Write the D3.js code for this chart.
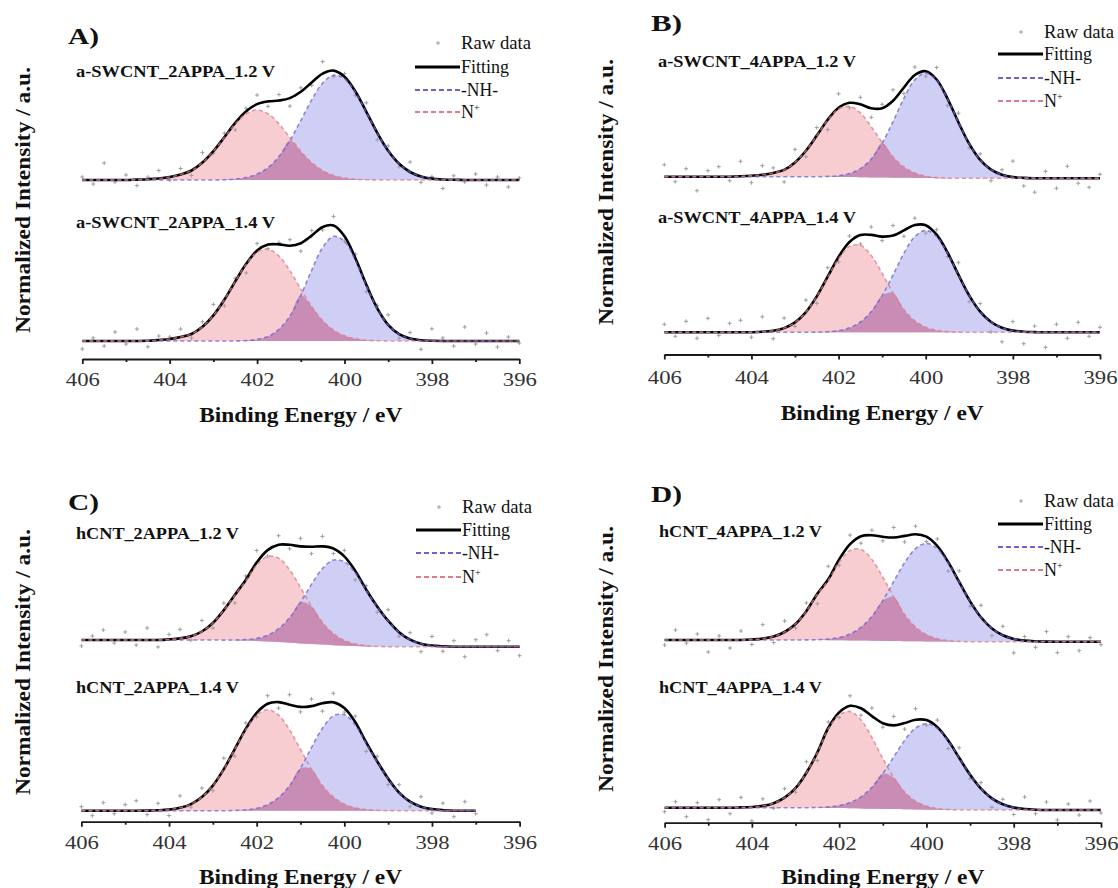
<!DOCTYPE html>
<html><head><meta charset="utf-8">
<script src="https://cdn.jsdelivr.net/npm/d3@7"></script>
<style>body{margin:0;background:#fff}svg{display:block}</style>
</head><body>
<svg id="c" width="1118" height="888"></svg>
<script>
// ---------------- DATA ----------------
const energies = [406,405.75,405.5,405.25,405,404.75,404.5,404.25,404,403.75,403.5,403.25,403,402.75,402.5,402.25,402,401.75,401.5,401.25,401,400.75,400.5,400.25,400,399.75,399.5,399.25,399,398.75,398.5,398.25,398,397.75,397.5,397.25,397,396.75,396.5,396.25,396];
const xTicks = [406,404,402,400,398,396];
const xMinorTicks = [405,403,401,399,397];
const panelLetters = ["A)","B)","C)","D)"];
const sampleLabels = [
  ["a-SWCNT_2APPA_1.2 V","a-SWCNT_2APPA_1.4 V"],
  ["a-SWCNT_4APPA_1.2 V","a-SWCNT_4APPA_1.4 V"],
  ["hCNT_2APPA_1.2 V","hCNT_2APPA_1.4 V"],
  ["hCNT_4APPA_1.2 V","hCNT_4APPA_1.4 V"]
];
const legendLabels = ["Raw data","Fitting","-NH-","N+"];
const xTitle = "Binding Energy / eV";
const yTitle = "Normalized Intensity / a.u.";
// vertical stacking offsets (a.u.) [upper, lower] per panel
const stackOffsets = [[179,18],[176.2,22.2],[175,11],[181,12.7]];

// -NH- component
const nhA1 = [0,0,0,0,0,0,0,0,0,0,0,0,0,0.3,1,2.5,5.9,12.4,23.4,39.4,59.4,80.2,96.9,104.8,101.3,87.7,67.9,47.1,29.2,16.2,8,3.6,1.4,0.5,0.2,0,0,0,0,0,0];
const nhA2 = [0,0,0,0,0,0,0,0,0,0,0,0,0,0,0.1,0.4,1.6,4.6,11.7,25,45.7,70.9,93.5,104.7,99.6,80.6,55.5,32.4,16.2,6.8,2.4,0.7,0.2,0,0,0,0,0,0,0,0];
const nhB1 = [0,0,0,0,0,0,0,0,0,0,0,0,0,0,0.1,0.4,1.2,3.5,8.6,18.4,34.4,56.1,79.5,98,105,98,79.5,56.1,34.4,18.4,8.6,3.5,1.2,0.4,0.1,0,0,0,0,0,0];
const nhB2 = [0,0,0,0,0,0,0,0,0,0,0,0,0,0,0.2,0.6,1.7,4.5,10.3,20.7,36.7,57.4,79.1,95.7,102,95.7,79.1,57.4,36.7,20.7,10.3,4.5,1.7,0.6,0.2,0,0,0,0,0,0];
const nhC1 = [0,0,0,0,0,0,0,0,0,0,0,0,0,0,0.3,1,2.6,6.3,13.4,25,41.1,59.6,75.9,85.1,84,73,55.9,40,26,14.5,7,3,1.2,0.4,0,0,0,0,0,0,0];
const nhC2 = [0,0,0,0,0,0,0,0,0,0,0,0,0,0,0.3,0.9,2.4,6,13.1,25.1,42.5,63.1,82.4,94.8,96,85.6,67.2,49,32,18,9,4,1.6,0.5,0,0,0,null,null,null,null];
const nhD1 = [0,0,0,0,0,0,0,0,0,0,0,0,0,0.1,0.4,1.1,2.8,6.4,13.2,24.4,40.3,59.5,78.5,92.7,98,92.7,78.5,59.5,40.3,24.4,13.2,6.4,2.8,1.1,0.4,0.1,0,0,0,0,0];
const nhD2 = [0,0,0,0,0,0,0,0,0,0,0,0,0,0,0.3,1,2.5,5.7,11.6,21.4,35.3,52.2,68.9,81.4,86,81.4,68.9,52.2,35.3,21.4,11.6,5.7,2.5,1,0.3,0,0,0,0,0,0];

// N+ component
const npA1 = [0,0,0,0,0,0.4,0.8,1.5,3,5.5,9.5,17.4,28.8,42.5,56.1,66.2,70,66.2,56.1,42.5,28.8,17.4,9.5,4.6,2,0.8,0.3,0.1,0,0,0,0,0,0,0,0,0,0,0,0,0];
const npA2 = [0,0,0,0,0,0,0.2,1,2,4,7,14.2,25.6,41.2,59.5,76.8,88.8,91.8,84.9,70.3,52.1,34.5,20.5,10.9,5.2,2.2,0.8,0.3,0,0,0,0,0,0,0,0,0,0,0,0,0];
const npB1 = [0,0,0,0,0,0,0,0.4,1,2,3.8,6.8,14.3,26,41.1,56.7,67.9,70.8,64.3,50.7,34.8,20.8,10.8,4.9,1.9,0.7,0.2,0,0,0,0,0,0,0,0,0,0,0,0,0,0];
const npB2 = [0,0,0,0,0,0,0,0,0.1,0.5,1.6,4.2,9.9,20.2,35.7,55,73.7,85.8,87,76.7,59,39.3,22.9,11.5,5.1,1.9,0.7,0.2,0,0,0,0,0,0,0,0,0,0,0,0,0];
const npC1 = [0,0,0,0,0,0,0,0,0.6,1.6,3.8,8.5,17,30,45,59.6,75.9,85.1,84,73,55.9,37.7,22.3,11.6,5.3,2.2,0.8,0.2,0,0,0,0,0,0,0,0,0,0,0,0,0];
const npC2 = [0,0,0,0,0,0,0.1,0.4,1.1,2.9,6.6,13.6,25.1,41.5,61.3,80.9,95.5,101,95.5,80.9,61.3,41.5,25.1,13.6,6.6,2.9,1.1,0.4,0.1,0,0,0,0,0,0,0,0,null,null,null,null];
const npD1 = [0,0,0,0,0,0,0,0,0.5,1.4,3.5,8,16,29,46,59.8,78.1,89.9,91.1,81.1,63.8,44,26.8,14.4,6.8,2.8,1,0.3,0,0,0,0,0,0,0,0,0,0,0,0,0];
const npD2 = [0,0,0,0,0,0,0,0.3,0.7,1.8,4.5,10,19.5,35,55,78.9,93.1,96.7,88.5,71.2,50.4,31.5,17.3,8.4,3.6,1.3,0.4,0,0,0,0,0,0,0,0,0,0,0,0,0,0];

// Shirley-type background rise (a.u.) above the stacking offset
const bgB1 = [1.6,1.6,1.6,1.6,1.6,1.6,1.6,1.6,1.6,1.6,1.6,1.6,1.6,1.6,1.5,1.5,1.4,1.2,1.1,0.9,0.8,0.6,0.5,0.4,0.2,0.1,0,0,0,0,0,0,0,0,0,0,0,0,0,0,0];
const bgC1 = [6.7,6.7,6.7,6.7,6.7,6.7,6.7,6.7,6.7,6.7,6.7,6.7,6.7,6.6,6.4,6.1,5.7,5.2,4.6,3.9,3.3,2.7,2.1,1.5,1,0.6,0.3,0.1,0,0,0,0,0,0,0,0,0,0,0,0,0];
const bgD1 = [1.7,1.7,1.7,1.7,1.7,1.7,1.7,1.7,1.7,1.7,1.7,1.7,1.7,1.7,1.6,1.5,1.4,1.3,1.2,1,0.8,0.7,0.5,0.4,0.3,0.2,0.1,0,0,0,0,0,0,0,0,0,0,0,0,0,0];
const bgD2 = [2.3,2.3,2.3,2.3,2.3,2.3,2.3,2.3,2.3,2.3,2.3,2.3,2.3,2.3,2.2,2.1,2,1.8,1.6,1.3,1.1,0.9,0.7,0.5,0.3,0.2,0.1,0,0,0,0,0,0,0,0,0,0,0,0,0,0];

// raw data residuals (raw - fit), a.u.
const residA1 = [3,-4,17,-2,5,-6,2,8,-3,6,-5,10,-2,4,-7,3,9,-5,6,-8,4,-3,12,-6,3,-4,9,-7,5,-3,10,-6,2,-9,4,-2,6,-5,3,-7,2];
const residA2 = [-8,3,-5,9,-3,12,-6,4,2,8,-4,5,11,-6,3,-9,7,-4,2,6,-8,5,-3,9,-5,4,-7,3,10,-4,6,-9,12,3,-5,14,-3,8,-6,4,-2];
const residB1 = [12,-5,8,-14,6,10,-4,15,-7,9,5,-12,13,-6,8,-10,14,-5,7,-9,4,11,-6,8,-5,12,-7,9,-4,6,-11,5,16,-8,-14,7,-10,12,-5,-9,4];
const residB2 = [8,-4,11,-6,14,-3,9,12,-5,15,-8,10,-4,12,-7,9,-5,6,-9,8,-4,10,-6,7,-8,5,-4,12,-6,8,-10,-14,9,-12,6,-15,8,-6,10,-4,5];
const residC1 = [-6,4,10,-3,8,-5,12,-7,5,9,-4,11,-5,7,-8,4,12,-6,9,-4,8,-7,10,-5,6,-9,4,-6,11,-4,7,-8,9,-5,6,-10,7,12,-4,6,-9];
const residC2 = [4,-5,8,-3,6,10,-4,7,-6,12,-3,9,-5,11,-7,6,-4,8,-6,10,-5,7,-8,9,-4,6,-9,5,-6,8,-5,10,-4,7,-6,9,-3,null,null,null,null];
const residD1 = [-5,10,-3,6,-12,4,-8,9,-5,14,-6,11,-4,8,-10,13,-6,9,-7,5,-4,10,-6,8,-5,7,-9,11,-5,12,-7,9,-14,4,-6,10,-11,5,-9,4,-3];
const residD2 = [-4,6,-9,5,-12,8,-6,10,-14,7,-5,9,-4,11,-8,6,-5,10,-7,8,-4,9,-6,11,-5,7,-8,10,-4,6,-9,5,-7,12,-4,8,-10,6,-5,9,-3];

const spectra = [
  {panel:0, row:0, nh:nhA1, np:npA1, bg:null, resid:residA1},
  {panel:0, row:1, nh:nhA2, np:npA2, bg:null, resid:residA2},
  {panel:1, row:0, nh:nhB1, np:npB1, bg:bgB1, resid:residB1},
  {panel:1, row:1, nh:nhB2, np:npB2, bg:null, resid:residB2},
  {panel:2, row:0, nh:nhC1, np:npC1, bg:bgC1, resid:residC1},
  {panel:2, row:1, nh:nhC2, np:npC2, bg:null, resid:residC2},
  {panel:3, row:0, nh:nhD1, np:npD1, bg:bgD1, resid:residD1},
  {panel:3, row:1, nh:nhD2, np:npD2, bg:bgD2, resid:residD2}
];

// ---------------- LAYOUT ----------------
const layout = [
  {x0:82.3, x1:519.3, axisY:359,   letter:[68,44],  labelX:76,  labelY:[77,228],  labelW:[199,199], legendX:461,  legendY:[43,67,90,112],   yLab:[30,200],  titleY:422, tickY:386},
  {x0:664.3,x1:1100,  axisY:354.5, letter:[651,31], labelX:658, labelY:[67,223],  labelW:[198,198], legendX:1044, legendY:[32,54,78,101],   yLab:[613,192], titleY:420, tickY:384},
  {x0:81.4, x1:519.6, axisY:821.7, letter:[68,510], labelX:76,  labelY:[539,693], labelW:[163,163], legendX:462,  legendY:[507,530,553,577],yLab:[30,662],  titleY:884, tickY:849},
  {x0:664.6,x1:1101,  axisY:822.7, letter:[651,502],labelX:659, labelY:[537,693], labelW:[163,163], legendX:1044, legendY:[501,524,547,570],yLab:[613,659], titleY:884, tickY:850}
];
const serif = "'Liberation Serif','Times New Roman','DejaVu Serif',serif";
const col = {redFill:"#f7cdd1", blueFill:"#cfcff5", overlap:"#c98db5", nh:"#6c63d4", np:"#dc7c8a", raw:"#9e9e9e"};

const svg = d3.select("#c");

function addText(g, x, y, str, o) {
  const t = g.append("text").attr("x", x).attr("y", y).text(str)
    .attr("font-family", serif).attr("font-size", o.size)
    .attr("font-weight", o.bold ? "bold" : "normal")
    .attr("fill", o.fill || "#111").attr("text-anchor", o.anchor || "start");
  if (o.len) t.attr("textLength", o.len).attr("lengthAdjust", "spacingAndGlyphs");
  if (o.transform) t.attr("transform", o.transform);
  return t;
}

const scales = layout.map(L => ({
  x: d3.scaleLinear().domain([406, 396]).range([L.x0, L.x1]),
  y: d3.scaleLinear().domain([0, 330]).range([L.axisY, L.axisY - 330])
}));

// spectra
spectra.forEach(s => {
  const L = layout[s.panel], {x, y} = scales[s.panel];
  const off = stackOffsets[s.panel][s.row];
  const pts = energies.map((e, i) => ({e, nh: s.nh[i], np: s.np[i], bg: off + (s.bg ? s.bg[i] : 0), r: s.resid[i]}))
    .filter(d => d.nh !== null);
  pts.forEach(d => { d.fit = d.bg + d.nh + d.np; d.raw = d.fit + d.r; });
  const g = svg.append("g");
  const curve = d3.curveCatmullRom;
  const area = f => d3.area().x(d => x(d.e)).y0(d => y(d.bg)).y1(d => y(d.bg + f(d))).curve(curve);
  g.append("path").attr("d", area(d => d.np)(pts)).attr("fill", col.redFill);
  g.append("path").attr("d", area(d => d.nh)(pts)).attr("fill", col.blueFill);
  g.append("path").attr("d", area(d => Math.min(d.nh, d.np))(pts)).attr("fill", col.overlap);
  g.selectAll(".raw").data(pts).enter().append("path")
    .attr("transform", d => `translate(${x(d.e)},${y(d.raw)})`)
    .attr("d", "M-2,0H2M0,-2V2").attr("stroke", col.raw).attr("stroke-width", 1);
  const line = f => d3.line().x(d => x(d.e)).y(d => y(f(d))).curve(curve);
  g.append("path").attr("d", line(d => d.fit)(pts)).attr("fill", "none").attr("stroke", "#000").attr("stroke-width", 2.6);
  g.append("path").attr("d", line(d => d.bg + d.nh)(pts)).attr("fill", "none").attr("stroke", col.nh)
    .attr("stroke-width", 1.6).attr("stroke-dasharray", "4,3").attr("stroke-opacity", 0.75);
  g.append("path").attr("d", line(d => d.bg + d.np)(pts)).attr("fill", "none").attr("stroke", col.np)
    .attr("stroke-width", 1.6).attr("stroke-dasharray", "4,3").attr("stroke-opacity", 0.75);
});

// axes, labels, legends
layout.forEach((L, p) => {
  const {x} = scales[p];
  const g = svg.append("g");
  const ax = g.append("g").attr("transform", `translate(0,${L.axisY})`)
    .call(d3.axisBottom(x).tickValues(xTicks).tickSize(5).tickSizeOuter(0).tickFormat(d3.format("d")));
  ax.selectAll("path,line").attr("stroke", "#1a1a1a").attr("stroke-width", 1.8);
  ax.selectAll("text").attr("y", L.tickY - L.axisY).attr("dy", 0)
    .attr("font-family", serif).attr("font-size", 19).attr("fill", "#333")
    .attr("textLength", 34).attr("lengthAdjust", "spacingAndGlyphs");
  const axm = g.append("g").attr("transform", `translate(0,${L.axisY})`)
    .call(d3.axisBottom(x).tickValues(xMinorTicks).tickSize(3).tickFormat(() => ""));
  axm.select(".domain").remove();
  axm.selectAll("line").attr("stroke", "#1a1a1a").attr("stroke-width", 1.8);

  addText(g, (L.x0 + L.x1) / 2, L.titleY, xTitle, {size: 20, bold: true, anchor: "middle", len: 203});
  addText(g, 0, 0, yTitle, {size: 21, bold: true, anchor: "middle", len: 266,
    transform: `translate(${L.yLab[0]},${L.yLab[1]}) rotate(-90)`});
  addText(g, L.letter[0], L.letter[1], panelLetters[p], {size: 23, bold: true, len: 31});
  sampleLabels[p].forEach((lab, r) => addText(g, L.labelX, L.labelY[r], lab, {size: 16, bold: true, len: L.labelW[r]}));

  // legend
  const lx = L.legendX, ly = L.legendY;
  g.append("path").attr("transform", `translate(${lx - 23},${ly[0]})`).attr("d", "M-2,0H2M0,-2V2")
    .attr("stroke", col.raw).attr("stroke-width", 1);
  g.append("line").attr("x1", lx - 46).attr("x2", lx - 1).attr("y1", ly[1]).attr("y2", ly[1])
    .attr("stroke", "#000").attr("stroke-width", 2.8);
  g.append("line").attr("x1", lx - 46).attr("x2", lx - 1).attr("y1", ly[2]).attr("y2", ly[2])
    .attr("stroke", col.nh).attr("stroke-width", 2).attr("stroke-dasharray", "5,3");
  g.append("line").attr("x1", lx - 46).attr("x2", lx - 1).attr("y1", ly[3]).attr("y2", ly[3])
    .attr("stroke", col.np).attr("stroke-width", 2).attr("stroke-dasharray", "5,3");
  const lens = [70, 48, 37];
  [0, 1, 2].forEach(i => addText(g, lx, ly[i] + 6, legendLabels[i], {size: 18, len: lens[i]}));
  const tN = addText(g, lx, ly[3] + 6, legendLabels[3].charAt(0), {size: 18});
  tN.append("tspan").attr("font-size", 10).attr("dy", -7).text(legendLabels[3].slice(1));
});
</script>
</body></html>
